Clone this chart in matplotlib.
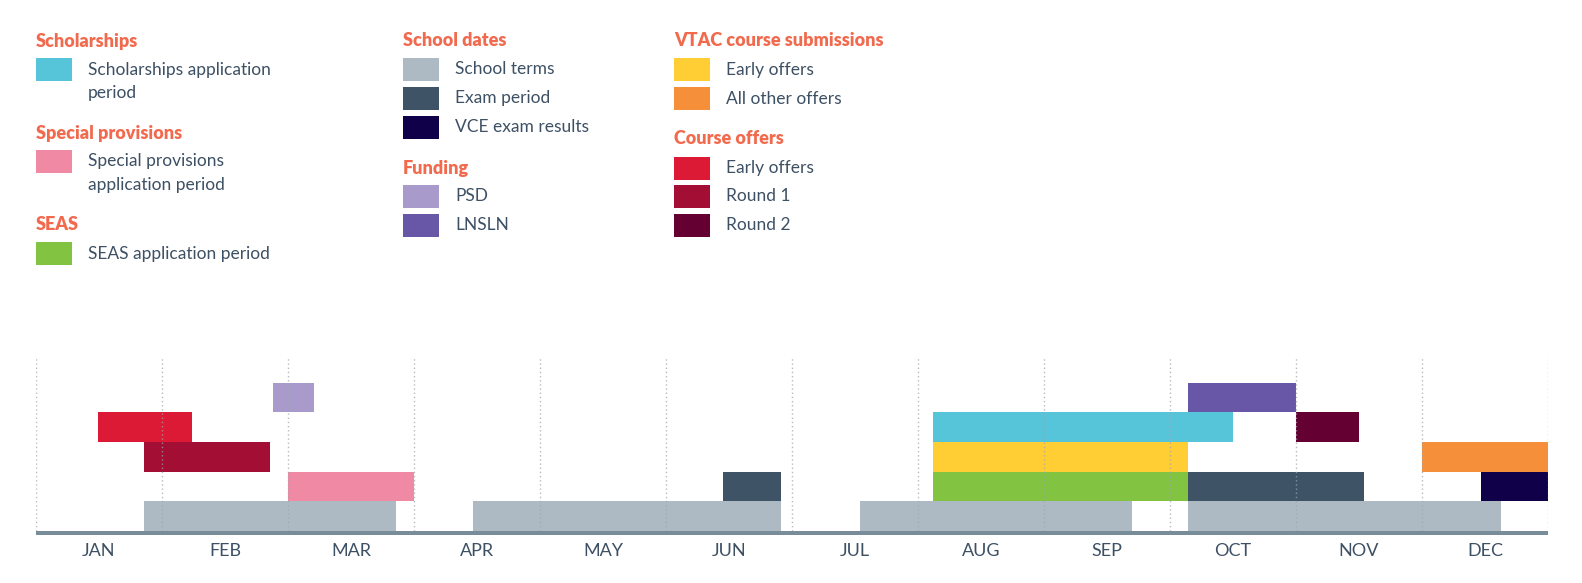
import matplotlib
matplotlib.use("Agg")
import matplotlib.pyplot as plt
from matplotlib.patches import Rectangle

W, H = 1582, 583
DPI = 100

# ---------------- data ----------------
months = ["JAN", "FEB", "MAR", "APR", "MAY", "JUN", "JUL", "AUG", "SEP", "OCT", "NOV", "DEC"]

# each series: list of (start, end) in month units (0 = 1 Jan, 12 = 31 Dec)
school_terms = [(0.86, 2.86), (3.47, 5.91), (6.54, 8.70), (9.14, 11.63)]
special_provisions = [(2.0, 3.0)]
exam_period = [(5.45, 5.91), (9.14, 10.54)]
seas = [(7.12, 9.14)]
vce_results = [(11.47, 12.0)]
course_round1 = [(0.86, 1.86)]
vtac_early = [(7.12, 9.14)]
vtac_other = [(11.0, 12.0)]
course_early = [(0.49, 1.24)]
scholarships = [(7.12, 9.5)]
course_round2 = [(10.0, 10.5)]
psd = [(1.88, 2.21)]
lnsln = [(9.14, 10.0)]

# row of each series on the timeline (0 = bottom)
rows = {
    "school_terms": 0, "special_provisions": 1, "exam_period": 1, "seas": 1,
    "vce_results": 1, "course_round1": 2, "vtac_early": 2, "vtac_other": 2,
    "course_early": 3, "scholarships": 3, "course_round2": 3, "psd": 4, "lnsln": 4,
}

colors = {
    "scholarships": "#56c5d9",
    "special_provisions": "#f08aa4",
    "seas": "#82c341",
    "school_terms": "#adbac3",
    "exam_period": "#3e5366",
    "vce_results": "#10004a",
    "psd": "#a89bcb",
    "lnsln": "#6857a6",
    "vtac_early": "#ffcd34",
    "vtac_other": "#f58f3a",
    "course_early": "#dc1a35",
    "course_round1": "#a30e34",
    "course_round2": "#650032",
}

series = {
    "school_terms": school_terms, "special_provisions": special_provisions,
    "exam_period": exam_period, "seas": seas, "vce_results": vce_results,
    "course_round1": course_round1, "vtac_early": vtac_early, "vtac_other": vtac_other,
    "course_early": course_early, "scholarships": scholarships,
    "course_round2": course_round2, "psd": psd, "lnsln": lnsln,
}

HEAD = "#f26a4e"
TXT = "#3d5064"
AXIS = "#788d99"
GRID = "#9aa6b0"

plt.rcParams['font.family'] = ['Lato', 'DejaVu Sans']

fig = plt.figure(figsize=(W / DPI, H / DPI), dpi=DPI)


def fx(x):
    return x / W


def fy(y):
    return 1 - y / H


# ---------------- timeline axes ----------------
x0, x1 = 36, 1548
y_base = 531
row_h = 29.7
line_px = 4
y_top = 358
ymin = -line_px / row_h
ymax = (y_base - y_top) / row_h
ax = fig.add_axes([fx(x0), fy(y_base + line_px), (x1 - x0) / W, (y_base + line_px - y_top) / H])
ax.set_xlim(0, 12)
ax.set_ylim(ymin, ymax)
ax.axis("off")

for name, spans in series.items():
    r = rows[name]
    for s, e in spans:
        ax.add_patch(Rectangle((s, r), e - s, 1, facecolor=colors[name],
                               edgecolor="none", zorder=2))

for m in range(13):
    ax.plot([m, m], [0, ymax], linestyle=(0, (1, 2)), color=GRID, lw=1.0,
            alpha=0.75, zorder=3)

ax.axhspan(ymin, 0, color=AXIS, zorder=4, lw=0)

for i, m in enumerate(months):
    ax.text(i + 0.5, ymin - 16 / row_h, m, ha="center", va="center",
            fontsize=13, color=TXT)

# ---------------- legend ----------------
SW_W, SW_H = 35.5, 23
FS = 12.5
FSH = 13


def header(x, y, s):
    fig.text(fx(x), fy(y), s, fontsize=FSH, fontweight="heavy", color=HEAD,
             ha="left", va="center")


def item(x, y, key, s, tx_off=52):
    fig.patches.append(Rectangle((fx(x), fy(y + SW_H / 2)), SW_W / W, SW_H / H,
                                 transform=fig.transFigure, facecolor=colors[key],
                                 edgecolor="none"))
    fig.text(fx(x + tx_off), fy(y), s, fontsize=FS, color=TXT, ha="left",
             va="center")


def line2(x, y, s, tx_off=52):
    fig.text(fx(x + tx_off), fy(y), s, fontsize=FS, color=TXT, ha="left", va="center")


c1, c2, c3 = 36, 403, 674
# column 1
header(c1, 41, "Scholarships")
item(c1, 69.5, "scholarships", "Scholarships application")
line2(c1, 93, "period")
header(c1, 133, "Special provisions")
item(c1, 161, "special_provisions", "Special provisions")
line2(c1, 185.5, "application period")
header(c1, 225, "SEAS")
item(c1, 253.5, "seas", "SEAS application period")

# column 2
header(c2, 41, "School dates")
item(c2, 69.5, "school_terms", "School terms")
item(c2, 98.5, "exam_period", "Exam period")
item(c2, 127.5, "vce_results", "VCE exam results")
header(c2, 168.5, "Funding")
item(c2, 196.5, "psd", "PSD")
item(c2, 225, "lnsln", "LNSLN")

# column 3
header(c3, 41, "VTAC course submissions")
item(c3, 69.5, "vtac_early", "Early offers")
item(c3, 98.5, "vtac_other", "All other offers")
header(c3, 139, "Course offers")
item(c3, 168, "course_early", "Early offers")
item(c3, 196.5, "course_round1", "Round 1")
item(c3, 225, "course_round2", "Round 2")

fig.savefig("out.png", dpi=DPI, facecolor="white")
